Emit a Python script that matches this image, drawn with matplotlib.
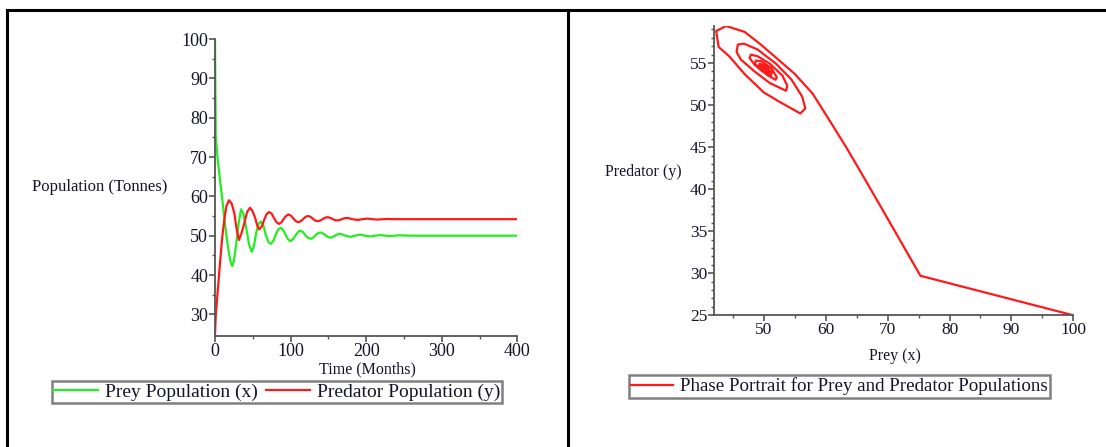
import numpy as np
import matplotlib.pyplot as plt
from matplotlib.lines import Line2D

plt.rcParams['font.family'] = ['Liberation Serif', 'DejaVu Serif']

# prey population x(t), tonnes
t_prey = [0, 1, 3.5, 6.6, 9.5, 12.3, 15.4, 18.5, 20.8, 22.9, 25, 28.7, 31.5, 34.4,
          37.5, 41.9, 45, 48.5, 51.5, 54.2, 57.5, 60.4, 64, 67.5, 71, 74, 77.5, 81,
          84, 87.3, 91, 94, 97, 100, 103.5, 107, 110, 113, 116.5, 120, 123.5, 127,
          130.5, 134, 137, 140, 143.5, 147, 150, 153.5, 157, 160.5, 163, 166, 172.5,
          179, 185.5, 192, 198.5, 205, 211.5, 218, 231, 244, 260, 400]
prey = [100, 75.3, 69.5, 64.2, 59.5, 54.5, 49.5, 45.5, 43.2, 42.3, 43.5, 48.9, 53.5, 56.7,
        55.6, 51.4, 47.8, 45.9, 47.3, 50.5, 52.9, 53.6, 52.6, 50.0, 48.3, 47.9, 48.8, 50.6,
        51.7, 52.0, 51.2, 50.0, 49.0, 48.6, 49.2, 50.2, 51.0, 51.3, 50.9, 50.0, 49.4, 49.2,
        49.6, 50.3, 50.7, 50.8, 50.5, 50.0, 49.6, 49.5, 49.8, 50.2, 50.4, 50.5, 50.0,
        49.7, 50.0, 50.3, 50.0, 49.8, 50.0, 50.15, 49.9, 50.1, 50.0, 50.0]

# predator population y(t), tonnes
t_pred = [0, 1, 3, 6.6, 9.5, 12.3, 15, 18.5, 22, 25.6, 28.5, 31.7, 35, 38.8, 42.5, 46.3,
          49.5, 53, 56, 58.6, 62, 65, 68, 71.4, 75, 78, 81.5, 84.7, 88, 91, 94, 97, 100.5,
          104, 107, 110, 113.5, 117, 120, 123, 126.5, 130, 133, 136.5, 140, 143, 146,
          149.5, 153, 156, 159, 162.5, 166, 169, 172, 175.5, 182, 188.5, 195, 201.5, 208,
          215, 228, 240, 300, 400]
pred = [25, 29.7, 34.5, 43.0, 49.5, 54.0, 57.5, 59.0, 58.2, 55.7, 51.8, 48.9, 50.6, 53.2,
        56.0, 57.1, 56.3, 54.6, 52.5, 51.6, 52.4, 54.0, 55.4, 56.0, 55.6, 54.5, 53.4, 53.0,
        53.4, 54.3, 55.0, 55.4, 55.1, 54.3, 53.7, 53.4, 53.7, 54.3, 54.8, 55.0, 54.8, 54.2,
        53.8, 53.7, 53.9, 54.3, 54.6, 54.7, 54.5, 54.2, 53.95, 53.9, 54.05, 54.3, 54.45,
        54.5, 54.2, 54.0, 54.2, 54.35, 54.2, 54.1, 54.25, 54.2, 54.2, 54.2]

# phase portrait samples (prey, predator)
phase_prey = [100, 75.3, 69.3, 66.0, 63.3, 60.5, 57.9, 55.0, 52.5, 49.5, 46.9, 43.9, 42.3,
              42.7, 44.4, 47.0, 50.0, 52.5, 55.9, 56.7,
              56.2, 54.5, 52.0, 49.0, 46.8, 45.8, 45.6,
              46.3, 48.5, 51.0, 53.6, 53.8,
              53.0, 51.0, 49.0, 47.9, 47.7,
              48.5, 50.5, 51.9, 52.1,
              51.2, 49.6, 48.7, 48.6,
              49.5, 51.1, 51.3,
              50.3, 49.3, 49.2,
              50.0, 50.8, 50.8,
              50.0, 49.6, 49.5, 50.2, 50.5, 50.0, 49.7, 50.0, 50.2, 50.0]
phase_pred = [25.0, 29.7, 37.4, 41.6, 45.0, 48.3, 51.35, 53.7, 55.3, 57.2, 58.7, 59.4, 58.8,
              56.9, 55.8, 53.6, 51.5, 50.4, 49.0, 49.6,
              51.0, 53.0, 54.9, 56.6, 57.3, 57.2, 56.3,
              55.4, 54.0, 52.6, 51.7, 52.3,
              53.5, 54.9, 55.8, 56.0, 55.6,
              54.8, 53.6, 53.0, 53.3,
              54.4, 55.2, 55.3, 54.9,
              54.2, 53.5, 53.8,
              54.7, 54.9, 54.6,
              54.0, 53.75, 54.0,
              54.55, 54.65, 54.45, 54.05, 54.1, 54.45, 54.35, 54.2, 54.2, 54.2]

W, H = 1106, 447
fig = plt.figure(figsize=(W / 100, H / 100), dpi=100)

# table-style frame around the two panels
for xs, ys in [([7, W], [10, 10]), ([7, 7], [10, H]), ([568, 568], [10, H])]:
    fig.add_artist(Line2D([x / W for x in xs], [1 - y / H for y in ys],
                          transform=fig.transFigure, color='black', lw=2.2))

spine_col = '#555555'
text_col = '#15152a'
green = '#22ee22'
red = '#ff1a1a'


def style_axes(ax, fs):
    for s in ['top', 'right']:
        ax.spines[s].set_visible(False)
    for s in ['left', 'bottom']:
        ax.spines[s].set_color(spine_col)
        ax.spines[s].set_linewidth(1.3)
    ax.tick_params(which='major', direction='out', length=4, width=1.2,
                   color=spine_col, labelsize=fs, labelcolor=text_col, pad=1)
    ax.tick_params(which='minor', direction='out', length=2.5, width=1.0, color=spine_col)


# time series
ax1 = fig.add_axes([215 / W, 1 - 336 / H, 302.3 / W, 297 / H])
ax1.plot(t_prey, prey, color=green, lw=1.6, label='Prey Population (x)')
ax1.plot(t_pred, pred, color=red, lw=1.6, label='Predator Population (y)')
ax1.set_xlim(0, 400)
ax1.set_ylim(24.5, 100)
ax1.set_xticks(np.arange(0, 401, 100))
ax1.set_xticks(np.arange(50, 400, 100), minor=True)
ax1.set_yticks(np.arange(30, 101, 10))
ax1.set_yticks(np.arange(35, 100, 10), minor=True)
style_axes(ax1, 13)
fig.text(100 / W, 1 - 187 / H, 'Population (Tonnes)', ha='center', va='center',
         fontsize=12, color=text_col)
fig.text(367 / W, 1 - 369 / H, 'Time (Months)', ha='center', va='center',
         fontsize=11.5, color=text_col)
leg1 = ax1.legend(loc='center', bbox_to_anchor=(277 / W, 1 - 392 / H),
                  bbox_transform=fig.transFigure, ncol=2, fancybox=False,
                  edgecolor='#808080', framealpha=1, fontsize=14, handlelength=2.3,
                  handletextpad=0.35, columnspacing=0.4, borderpad=0.1, borderaxespad=0)
leg1.get_frame().set_linewidth(1.8)
for txt in leg1.get_texts():
    txt.set_color(text_col)

# phase portrait
ax2 = fig.add_axes([714.3 / W, 1 - 315.3 / H, 359 / W, 289.3 / H])
ax2.plot(phase_prey, phase_pred, color=red, lw=1.6,
         label='Phase Portrait for Prey and Predator Populations')
ax2.set_xlim(42.0, 100)
ax2.set_ylim(25, 59.4)
ax2.set_xticks(np.arange(50, 101, 10))
ax2.set_xticks(np.arange(45, 100, 10), minor=True)
ax2.set_yticks(np.arange(25, 56, 5))
ax2.set_yticks(np.arange(26, 60, 1), minor=True)
style_axes(ax2, 12.5)
fig.text(643 / W, 1 - 172 / H, 'Predator (y)', ha='center', va='center',
         fontsize=11.5, color=text_col)
fig.text(895 / W, 1 - 356 / H, 'Prey (x)', ha='center', va='center',
         fontsize=11.5, color=text_col)
leg2 = ax2.legend(loc='center', bbox_to_anchor=(839.5 / W, 1 - 386.5 / H),
                  bbox_transform=fig.transFigure, fancybox=False,
                  edgecolor='#808080', framealpha=1, fontsize=13.7, handlelength=2.2,
                  handletextpad=0.35, borderpad=0.15, borderaxespad=0)
leg2.get_frame().set_linewidth(1.8)
for txt in leg2.get_texts():
    txt.set_color(text_col)

fig.savefig('out.png', dpi=100)
